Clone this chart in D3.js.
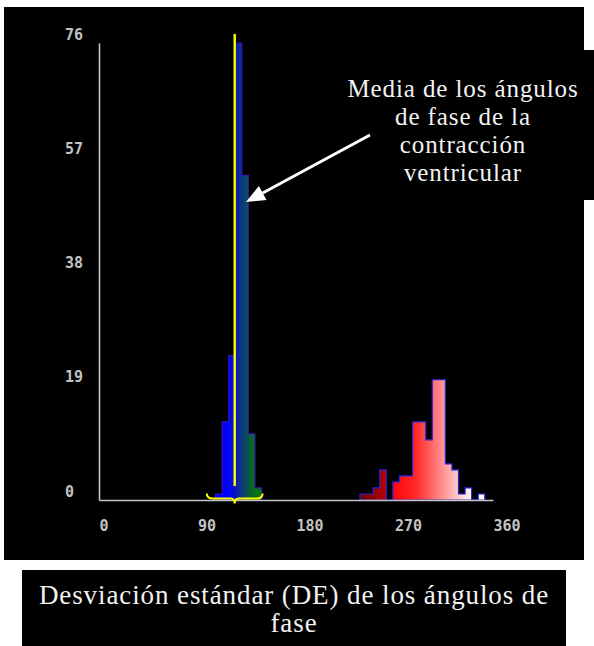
<!DOCTYPE html>
<html>
<head>
<meta charset="utf-8">
<script src="https://cdn.jsdelivr.net/npm/d3@7"></script>
<style>
  html, body { margin: 0; padding: 0; background: #ffffff; }
  svg { display: block; }
</style>
</head>
<body>
<script>
// Phase histogram: counts per 6-degree bin of phase angle
const xTicks = [0, 90, 180, 270, 360];
const yTicks = [0, 19, 38, 57, 76];
const binWidth = 6;

// Ventricular contraction (blue → green)
const ventricleStarts = [106.5, 112.5, 118.5, 124.5, 130.5, 136.5, 142.5];
const ventricleCounts = [1, 13, 24, 76, 54, 11, 2];

// Atrial group (dark red → red → white)
const atriumStarts = [238.5, 244.5, 250.5, 256.5, 262.5, 268.5, 274.5, 280.5, 286.5, 292.5,
                      298.5, 304.5, 310.5, 316.5, 322.5, 328.5, 334.5, 340.5, 346.5];
const atriumCounts = [1, 1, 2, 5, 0, 3, 4, 4, 13, 13, 10, 20, 20, 6, 5, 1, 2, 0, 1];

const meanPhase = 124;
const sdPhase = 25.5;

const noteLines = ["Media de los ángulos", "de fase de la", "contracción", "ventricular"];
const titleLines = ["Desviación estándar (DE) de los ángulos de", "fase"];

const W = 594, H = 646;
const svg = d3.select("body").append("svg").attr("width", W).attr("height", H);

// panel background
svg.append("rect").attr("x", 4).attr("y", 7).attr("width", 580).attr("height", 553).attr("fill", "#000");

const x = d3.scaleLinear().domain([0, 360]).range([99, 493]);
const y = d3.scaleLinear().domain([0, 76]).range([500, 43]);

const defs = svg.append("defs");
function gradient(id, stops) {
  const a0 = stops[0][0], a1 = stops[stops.length - 1][0];
  const g = defs.append("linearGradient").attr("id", id)
    .attr("gradientUnits", "userSpaceOnUse")
    .attr("x1", x(a0)).attr("x2", x(a1)).attr("y1", 0).attr("y2", 0);
  stops.forEach(([a, c]) => g.append("stop").attr("offset", (a - a0) / (a1 - a0)).attr("stop-color", c));
}
gradient("gBlue", [[118, "#0000ff"], [124, "#0414c8"], [128, "#0c2a94"], [134, "#0a4a60"], [140, "#056a20"], [148, "#008000"]]);
gradient("gRed", [[238, "#6e0000"], [262, "#b80000"], [265, "#ff0000"], [290, "#ff2a2a"], [305, "#ff6a6a"],
                  [320, "#ffaaaa"], [334, "#ffe2e2"], [348, "#ffffff"]]);

function histogram(starts, counts, fillId, stroke) {
  const pts = starts.map((s, i) => [s, counts[i]]);
  pts.push([starts[starts.length - 1] + binWidth, counts[counts.length - 1]]);
  const area = d3.area()
    .x(d => x(d[0])).y0(y(0)).y1(d => y(d[1]))
    .curve(d3.curveStepAfter);
  svg.append("path").datum(pts)
    .attr("d", area)
    .attr("fill", `url(#${fillId})`)
    .attr("stroke", stroke)
    .attr("stroke-width", 1.2)
    .attr("stroke-linejoin", "miter");
}
histogram(ventricleStarts, ventricleCounts, "gBlue", "#3a10b8");
histogram(atriumStarts, atriumCounts, "gRed", "#2424e0");

// axes
const tickFont = "'DejaVu Sans Mono', monospace";
const xAxis = svg.append("g").attr("transform", `translate(0,${y(0)})`)
  .call(d3.axisBottom(x).tickValues(xTicks).tickSize(0).tickSizeOuter(0).tickFormat(d3.format("d")));
const yAxis = svg.append("g").attr("transform", `translate(${x(0)},0)`)
  .call(d3.axisLeft(y).tickValues(yTicks).tickSize(0).tickSizeOuter(0).tickFormat(d3.format("d")));

[xAxis, yAxis].forEach(g => {
  g.select(".domain").attr("stroke", "#c4c4c4").attr("stroke-width", 1.6);
  g.selectAll("text").attr("fill", "#c2c2c2").attr("font-family", tickFont)
    .attr("font-weight", "bold").attr("font-size", 15).attr("text-anchor", "start");
});
xAxis.selectAll("text").attr("x", 0).attr("y", 31).attr("dy", 0);
yAxis.selectAll("text").attr("x", -34).attr("y", -4).attr("dy", 0);

// mean phase marker and ±SD brace
const xm = x(meanPhase), xl = x(meanPhase - sdPhase), xr = x(meanPhase + sdPhase);
svg.append("line")
  .attr("x1", xm).attr("x2", xm).attr("y1", y(76) - 9).attr("y2", y(0) - 14)
  .attr("stroke", "#ffff00").attr("stroke-width", 2.4);
const by = y(0) - 1.5;
svg.append("path")
  .attr("d", `M${xl},${by - 5} Q${xl},${by} ${xl + 6},${by} L${xm - 4},${by} Q${xm},${by} ${xm},${by + 5}` +
             ` Q${xm},${by} ${xm + 4},${by} L${xr - 6},${by} Q${xr},${by} ${xr},${by - 5}`)
  .attr("fill", "none").attr("stroke", "#ffff00").attr("stroke-width", 2);

// annotation box with arrow
svg.append("rect").attr("x", 340).attr("y", 50).attr("width", 254).attr("height", 150).attr("fill", "#000");
const serif = "'Liberation Serif', 'Times New Roman', serif";
svg.append("g").selectAll("text").data(noteLines).join("text")
  .attr("x", 463).attr("y", (d, i) => 97 + i * 28)
  .attr("text-anchor", "middle")
  .attr("font-family", serif).attr("font-size", 25)
  .attr("letter-spacing", 0.9)
  .attr("fill", "#f2f2f2")
  .text(d => d);

const ax0 = 370, ay0 = 135, ax1 = 246, ay1 = 202;
const ang = Math.atan2(ay1 - ay0, ax1 - ax0);
const headLen = 19, headHalf = 8;
const bx = ax1 - headLen * Math.cos(ang), byy = ay1 - headLen * Math.sin(ang);
svg.append("line").attr("x1", ax0).attr("y1", ay0).attr("x2", bx).attr("y2", byy)
  .attr("stroke", "#fff").attr("stroke-width", 3);
svg.append("path")
  .attr("d", `M${ax1},${ay1} L${bx + headHalf * Math.sin(ang)},${byy - headHalf * Math.cos(ang)} ` +
             `L${bx - headHalf * Math.sin(ang)},${byy + headHalf * Math.cos(ang)} Z`)
  .attr("fill", "#fff");

// caption box
svg.append("rect").attr("x", 22).attr("y", 570).attr("width", 544).attr("height", 76).attr("fill", "#000");
svg.append("g").selectAll("text").data(titleLines).join("text")
  .attr("x", 294).attr("y", (d, i) => 604 + i * 28)
  .attr("text-anchor", "middle")
  .attr("font-family", serif).attr("font-size", 27)
  .attr("letter-spacing", 0.9)
  .attr("fill", "#f2f2f2")
  .text(d => d);
</script>
</body>
</html>
